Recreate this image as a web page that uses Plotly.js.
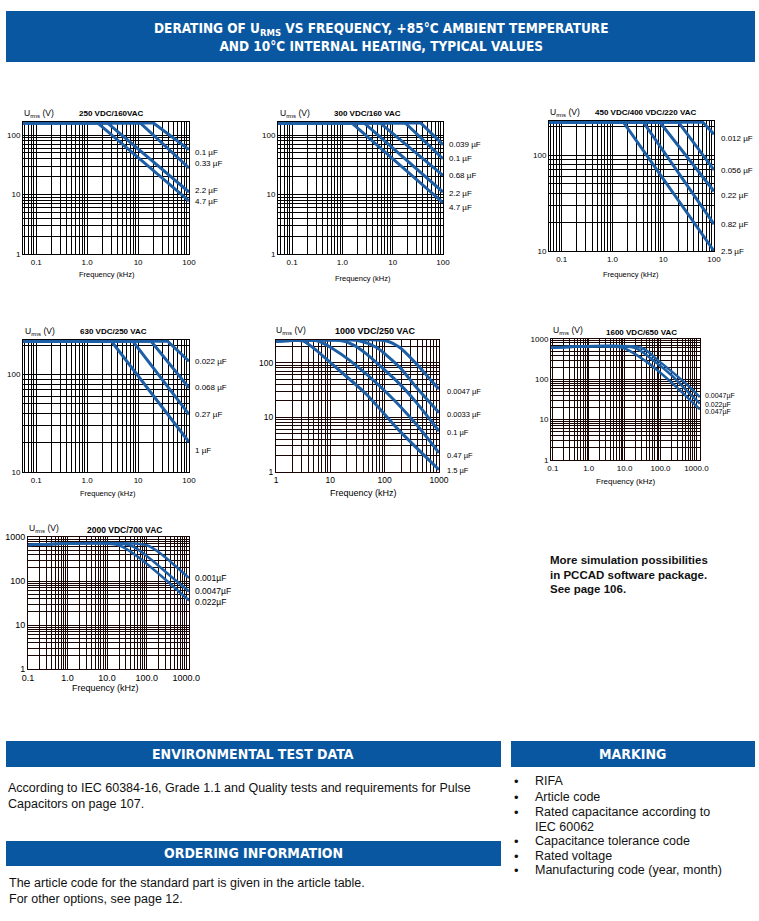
<!DOCTYPE html>
<html><head><meta charset="utf-8">
<script src="https://cdn.plot.ly/plotly-3.0.1.min.js"></script>
<style>html,body{margin:0;padding:0;background:#fff;}#chart{width:759px;height:921px;}</style>
</head><body><div id="chart"></div>
<script>
// ================= DATA =================
// Chart 1
const c1Title = '250 VDC/160VAC';
const c1Names = ['0.1 µF', '0.33 µF', '2.2 µF', '4.7 µF'];
const c1Freq = [[0.05, 20, 100], [0.05, 11, 100], [0.05, 2.5, 100], [0.05, 1.6, 100]];
const c1Urms = [[160, 160, 57], [160, 160, 28], [160, 160, 11], [160, 160, 7.8]];
// Chart 2
const c2Title = '300 VDC/160 VAC';
const c2Names = ['0.039 µF', '0.1 µF', '0.68 µF', '2.2 µF', '4.7 µF'];
const c2Freq = [[0.05, 36, 100], [0.05, 17.7, 100], [0.05, 5.6, 100], [0.05, 2.7, 100], [0.05, 1.53, 100]];
const c2Urms = [[160, 160, 69], [160, 160, 40], [160, 160, 21], [160, 160, 11], [160, 160, 7.3]];
// Chart 3
const c3Title = '450 VDC/400 VDC/220 VAC';
const c3Names = ['0.012 µF', '0.056 µF', '0.22 µF', '0.82 µF', '2.5 µF'];
const c3Freq = [[0.05, 60, 100], [0.05, 19.9, 100], [0.05, 8.6, 100], [0.05, 4.06, 100], [0.05, 1.64, 100]];
const c3Urms = [[220, 220, 165], [220, 220, 70], [220, 220, 42], [220, 220, 19], [220, 220, 10]];
// Chart 4
const c4Title = '630 VDC/250 VAC';
const c4Names = ['0.022 µF', '0.068 µF', '0.27 µF', '1 µF'];
const c4Freq = [[0.05, 38, 100], [0.05, 18, 100], [0.05, 7.9, 100], [0.05, 3.0, 100]];
const c4Urms = [[220, 220, 137], [220, 220, 73], [220, 220, 39], [220, 220, 20.3]];
// Chart 5
const c5Title = '1000 VDC/250 VAC';
const c5Names = ['0.0047 µF', '0.0033 µF', '0.1 µF', '0.47 µF', '1.5 µF'];
const c5Freq = [
  [1, 108, 190, 385, 680, 1000],
  [1, 35, 71, 190, 385, 1000],
  [1, 17, 28, 46, 190, 385, 1000],
  [1, 5.9, 11.3, 23, 108, 385, 1000],
  [1, 3.1, 5.6, 9.8, 46, 190, 1000]];
const c5Urms = [
  [250, 250, 190, 95, 50, 33],
  [250, 250, 190, 82, 35, 12.2],
  [250, 250, 205, 145, 40.6, 18.6, 5.6],
  [250, 250, 178, 109, 28.5, 7.4, 2.24],
  [250, 250, 166, 102, 26.5, 5.6, 1.1]];
// Chart 6
const c6Title = '1600 VDC/650 VAC';
const c6Names = ['0.0047µF', '0.022µF', '0.047µF'];
const c6Freq = [[0.08, 30, 85, 310, 720, 1250], [0.08, 19.5, 69, 202, 590, 1250], [0.08, 9.1, 36, 107, 310, 1250]];
const c6Urms = [[600, 600, 295, 115, 59, 36], [600, 600, 275, 126, 48, 25], [600, 600, 295, 138, 59, 18]];
// Chart 7
const c7Title = '2000 VDC/700 VAC';
const c7Names = ['0.001µF', '0.0047µF', '0.022µF'];
const c7Freq = [[0.08, 100, 260, 560, 1180], [0.08, 38, 120, 465, 1180], [0.08, 19.5, 68, 316, 1180]];
const c7Urms = [[650, 650, 380, 210, 117], [650, 650, 325, 115, 58], [650, 650, 325, 103, 36]];

// Tick labels
const xTicksA = [0.1, 1, 10, 100], xTextA = ['0.1', '1.0', '10', '100'];
const xTicksB = [1, 10, 100, 1000], xTextB = ['1', '10', '100', '1000'];
const xTicksC = [0.1, 1, 10, 100, 1000], xTextC = ['0.1', '1.0', '10.0', '100.0', '1000.0'];
const yTicks1 = [1, 10, 100], yText1 = ['1', '10', '100'];
const yTicks2 = [10, 100], yText2 = ['10', '100'];
const yTicks3 = [1, 10, 100, 1000], yText3 = ['1', '10', '100', '1000'];

// Text blocks
const headerText = 'DERATING OF U<sub>RMS</sub> VS FREQUENCY, +85°C AMBIENT TEMPERATURE<br>AND 10°C INTERNAL HEATING, TYPICAL VALUES';
const simText = ['More simulation possibilities', 'in PCCAD software package.', 'See page 106.'];
const envText = ['According to IEC 60384-16, Grade 1.1 and Quality tests and requirements for Pulse', 'Capacitors on page 107.'];
const ordText = ['The article code for the standard part is given in the article table.', 'For other options, see page 12.'];
const markItems = ['RIFA', 'Article code', 'Rated capacitance according to', 'IEC 60062', 'Capacitance tolerance code', 'Rated voltage', 'Manufacturing code (year, month)'];
const markBullet = [true, true, true, false, true, true, true];

// ================= LAYOUT =================
const W = 759, H = 921;
const fx = p => p / W;
const fy = p => 1 - p / H;
const FONT = 'Liberation Sans, Arial, sans-serif';
const HFONT = 'Liberation Sans Narrow, DejaVu Sans Condensed, Liberation Sans, sans-serif';
const BLUE = '#0a57a1';
const LINE = '#1c5fa6';

function gridVals(lo, hi) {
  const v = [];
  for (let n = Math.floor(lo); n <= Math.ceil(hi); n++) {
    for (let k = 1; k <= 9; k++) {
      const val = +(k * Math.pow(10, n)).toPrecision(6);
      const l = Math.log10(val);
      if (l >= lo - 1e-9 && l <= hi + 1e-9) v.push(val);
    }
  }
  return v;
}
function axis(dom, range, major, labels, anchor, gc, fs) {
  return {
    type: 'log', domain: dom, range: range, anchor: anchor, tickmode: 'array',
    tickvals: major, ticktext: labels,
    showgrid: true, gridcolor: gc, gridwidth: 1, showline: true, mirror: true,
    minor: { tickmode: 'array', tickvals: gridVals(range[0], range[1]), showgrid: true, gridcolor: gc, gridwidth: 1, ticks: '' },
    linecolor: gc, linewidth: 1, ticks: '', zeroline: false,
    tickfont: { family: FONT, size: fs, color: '#000' }, fixedrange: true
  };
}

const charts = [
  { title: c1Title, names: c1Names, f: c1Freq, u: c1Urms, box: [23, 189, 122, 254], xr: [-1.26, 2], yr: [0, 2.22],
    xt: xTicksA, xl: xTextA, yt: yTicks1, yl: yText1, gc: '#000', lw: 3, spline: false,
    uPos: [22, 113], tPos: [77, 113], tfs: 8, fPos: [107, 274], ffs: 7.5, lfs: 8, lx: 4, ly: [-3, 4, 2, -1], tick: 8 },
  { title: c2Title, names: c2Names, f: c2Freq, u: c2Urms, box: [278, 443, 122, 254], xr: [-1.28, 2], yr: [0, 2.22],
    xt: xTicksA, xl: xTextA, yt: yTicks1, yl: yText1, gc: '#000', lw: 3, spline: false,
    uPos: [278, 113], tPos: [332, 113], tfs: 8, fPos: [363, 278], ffs: 7.5, lfs: 8, lx: 4, ly: [0, 0, 0, -1, -5], tick: 8 },
  { title: c3Title, names: c3Names, f: c3Freq, u: c3Urms, box: [549, 714, 121, 251], xr: [-1.25, 2], yr: [1, 2.355],
    xt: xTicksA, xl: xTextA, yt: yTicks2, yl: yText2, gc: '#000', lw: 3, spline: false,
    uPos: [548, 112], tPos: [593, 112], tfs: 8, fPos: [631, 274], ffs: 7.5, lfs: 8, lx: 5, ly: [-4, -1, -4, 0, 0], tick: 8 },
  { title: c4Title, names: c4Names, f: c4Freq, u: c4Urms, box: [23, 189, 340, 472], xr: [-1.26, 2], yr: [1, 2.355],
    xt: xTicksA, xl: xTextA, yt: yTicks2, yl: yText2, gc: '#000', lw: 3, spline: false,
    uPos: [23, 332], tPos: [78, 332], tfs: 8, fPos: [108, 493], ffs: 7.5, lfs: 8, lx: 4, ly: [0, 0, 0, -8], tick: 8 },
  { title: c5Title, names: c5Names, f: c5Freq, u: c5Urms, box: [276, 439, 340, 472], xr: [0, 3], yr: [0, 2.415],
    xt: xTicksB, xl: xTextB, yt: yTicks1, yl: yText1, gc: '#1a0505', lw: 3, spline: true,
    uPos: [274, 331], tPos: [333, 331], tfs: 9, fPos: [363, 493], ffs: 9, lfs: 7.5, lx: 6, ly: [-3, -2, -1, -3, -1], tick: 8.5 },
  { title: c6Title, names: c6Names, f: c6Freq, u: c6Urms, box: [551, 700, 339, 460], xr: [-1.05, 3.1], yr: [0, 3],
    xt: xTicksC, xl: xTextC, yt: yTicks3, yl: yText3, gc: '#1a0505', lw: 2.5, spline: true,
    uPos: [551, 331], tPos: [604, 333], tfs: 8, fPos: [625, 481], ffs: 8, lfs: 7, lx: 3, ly: [1, -1, -3], tick: 8 },
  { title: c7Title, names: c7Names, f: c7Freq, u: c7Urms, box: [28, 189, 537, 669], xr: [-1.0, 3.07], yr: [0, 3],
    xt: xTicksC, xl: xTextC, yt: yTicks3, yl: yText3, gc: '#1a0505', lw: 2.5, spline: true,
    uPos: [27, 528], tPos: [85, 530], tfs: 8.5, fPos: [106, 688], ffs: 9, lfs: 8.5, lx: 4, ly: [0, 0, -1], tick: 9 }
];

const data = [];
const layout = {
  width: W, height: H, margin: { l: 0, r: 0, t: 0, b: 0 },
  paper_bgcolor: '#fff', plot_bgcolor: '#fff', showlegend: false,
  font: { family: FONT, color: '#000' },
  annotations: [], shapes: []
};

charts.forEach((c, i) => {
  const n = i + 1;
  const xa = 'x' + (n === 1 ? '' : n), ya = 'y' + (n === 1 ? '' : n);
  const xk = 'xaxis' + (n === 1 ? '' : n), yk = 'yaxis' + (n === 1 ? '' : n);
  const [x0, x1, y0, y1] = c.box;
  layout[xk] = axis([fx(x0), fx(x1)], c.xr, c.xt, c.xl, ya, c.gc, c.tick);
  layout[yk] = axis([fy(y1), fy(y0)], c.yr, c.yt, c.yl, xa, c.gc, c.tick);
  c.names.forEach((nm, j) => {
    data.push({
      x: c.f[j], y: c.u[j], xaxis: xa, yaxis: ya, mode: 'lines', name: nm, hoverinfo: 'skip',
      line: { color: LINE, width: c.lw, shape: c.spline ? 'spline' : 'linear', smoothing: 0.7 }
    });
    const uEnd = c.u[j][c.u[j].length - 1];
    layout.annotations.push({
      xref: xa + ' domain', yref: ya, x: 1, y: Math.log10(uEnd), xanchor: 'left', yanchor: 'middle',
      xshift: c.lx, yshift: c.ly[j], text: nm, showarrow: false, font: { family: FONT, size: c.lfs, color: '#000' }
    });
  });
  layout.annotations.push({ xref: 'paper', yref: 'paper', x: fx(c.uPos[0]), y: fy(c.uPos[1]), xanchor: 'left', yanchor: 'middle',
    text: 'U<sub>rms</sub> (V)', showarrow: false, font: { family: FONT, size: 8.5, color: '#000' } });
  layout.annotations.push({ xref: 'paper', yref: 'paper', x: fx(c.tPos[0]), y: fy(c.tPos[1]), xanchor: 'left', yanchor: 'middle',
    text: '<b>' + c.title + '</b>', showarrow: false, font: { family: FONT, size: c.tfs, color: '#000' } });
  layout.annotations.push({ xref: 'paper', yref: 'paper', x: fx(c.fPos[0]), y: fy(c.fPos[1]), xanchor: 'center', yanchor: 'middle',
    text: 'Frequency (kHz)', showarrow: false, font: { family: FONT, size: c.ffs, color: '#000' } });
});

// Banners
function banner(x0, x1, y0, y1) {
  layout.shapes.push({ type: 'rect', xref: 'paper', yref: 'paper', x0: fx(x0), x1: fx(x1), y0: fy(y1), y1: fy(y0),
    fillcolor: BLUE, line: { width: 0 }, layer: 'below' });
}
function btext(x, y, t, size) {
  layout.annotations.push({ xref: 'paper', yref: 'paper', x: fx(x), y: fy(y), xanchor: 'center', yanchor: 'middle',
    text: '<b>' + t + '</b>', showarrow: false, font: { family: HFONT, size: size, color: '#fff' } });
}
function ptext(x, y, t, size, bold) {
  layout.annotations.push({ xref: 'paper', yref: 'paper', x: fx(x), y: fy(y), xanchor: 'left', yanchor: 'middle',
    text: bold ? '<b>' + t + '</b>' : t, showarrow: false, font: { family: FONT, size: size, color: '#111' } });
}
banner(6, 755, 11, 62);
layout.annotations.push({ xref: 'paper', yref: 'paper', x: fx(381), y: fy(37), xanchor: 'center', yanchor: 'middle',
  text: '<b>' + headerText + '</b>', showarrow: false, font: { family: HFONT, size: 13.5, color: '#fff' } });

banner(6, 501, 741, 767); btext(253, 754, 'ENVIRONMENTAL TEST DATA', 14);
banner(511, 755, 741, 767); btext(632, 754, 'MARKING', 14);
banner(6, 501, 841, 866); btext(253, 853, 'ORDERING INFORMATION', 14);

simText.forEach((t, i) => ptext(548, 560 + i * 14.5, t, 11.5, true));
envText.forEach((t, i) => ptext(6, 788 + i * 16, t, 12.5, false));
ordText.forEach((t, i) => ptext(7, 883 + i * 16, t, 12.5, false));
const markY = [781, 797, 812, 827, 841, 856, 870];
markItems.forEach((t, i) => {
  if (markBullet[i]) ptext(512, markY[i], '•', 13, false);
  ptext(533, markY[i], t, 12.5, false);
});

Plotly.newPlot('chart', data, layout, { staticPlot: true, displayModeBar: false });
</script>
</body></html>
